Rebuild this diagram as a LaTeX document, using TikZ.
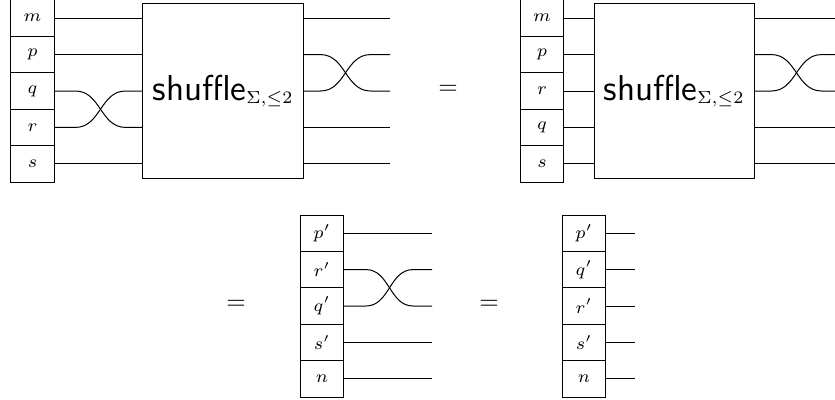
\documentclass[tikz,border=0pt]{standalone}
\begin{document}
\begin{tikzpicture}[x=0.4pt,y=-0.4pt,
  cell/.style={draw,rectangle,inner sep=0pt,minimum width=17.2pt,minimum height=14.56pt,font=\scriptsize},
  bigbox/.style={draw,rectangle,inner sep=0pt,minimum width=64pt,minimum height=69.6pt},
  eqsign/.style={inner sep=0pt},
  wire/.style={line width=0.4pt}]
\useasboundingbox (0,0) rectangle (835,400);

% ---------- top left ----------
\node[cell] (a1) at (32.5,18.2) {$m$};
\node[cell] (a2) at (32.5,54.6) {$p$};
\node[cell] (a3) at (32.5,91) {$q$};
\node[cell] (a4) at (32.5,127.4) {$r$};
\node[cell] (a5) at (32.5,163.8) {$s$};
\node[bigbox] (A) at (223,91) {\textsf{\Large shuffle}$_{\Sigma,\leq 2}$};

\draw[wire] (a1.east) -- (a1.east -| A.west);
\draw[wire] (a2.east) -- (a2.east -| A.west);
\draw[wire] (a3.east) -- ++(21,0) .. controls +(25,0) and +(-25,0) .. ++(50,36.4) -- (A.west |- a4.east);
\draw[wire] (a4.east) -- ++(21,0) .. controls +(25,0) and +(-25,0) .. ++(50,-36.4) -- (A.west |- a3.east);
\draw[wire] (a5.east) -- (a5.east -| A.west);

\coordinate (ao1) at (390,18.2);
\coordinate (ao2) at (390,54.6);
\coordinate (ao3) at (390,91);
\coordinate (ao4) at (390,127.4);
\coordinate (ao5) at (390,163.8);
\draw[wire] (A.east |- a1.east) -- (ao1);
\draw[wire] (A.east |- a2.east) -- ++(17,0) .. controls +(25,0) and +(-25,0) .. ++(50,36.4) -- (ao3);
\draw[wire] (A.east |- a3.east) -- ++(17,0) .. controls +(25,0) and +(-25,0) .. ++(50,-36.4) -- (ao2);
\draw[wire] (A.east |- a4.east) -- (ao4);
\draw[wire] (A.east |- a5.east) -- (ao5);

\node[eqsign] (eq1) at (448,89.5) {$=$};

% ---------- top right ----------
\node[cell] (b1) at (542,18.2) {$m$};
\node[cell] (b2) at (542,54.6) {$p$};
\node[cell] (b3) at (542,91) {$r$};
\node[cell] (b4) at (542,127.4) {$q$};
\node[cell] (b5) at (542,163.8) {$s$};
\node[bigbox] (B) at (674,91) {\textsf{\Large shuffle}$_{\Sigma,\leq 2}$};

\draw[wire] (b1.east) -- (b1.east -| B.west);
\draw[wire] (b2.east) -- (b2.east -| B.west);
\draw[wire] (b3.east) -- (b3.east -| B.west);
\draw[wire] (b4.east) -- (b4.east -| B.west);
\draw[wire] (b5.east) -- (b5.east -| B.west);

\coordinate (bo1) at (835,18.2);
\coordinate (bo2) at (835,54.6);
\coordinate (bo3) at (835,91);
\coordinate (bo4) at (835,127.4);
\coordinate (bo5) at (835,163.8);
\draw[wire] (B.east |- b1.east) -- (bo1);
\draw[wire] (B.east |- b2.east) -- ++(17,0) .. controls +(25,0) and +(-25,0) .. ++(50,36.4) -- (bo3);
\draw[wire] (B.east |- b3.east) -- ++(17,0) .. controls +(25,0) and +(-25,0) .. ++(50,-36.4) -- (bo2);
\draw[wire] (B.east |- b4.east) -- (bo4);
\draw[wire] (B.east |- b5.east) -- (bo5);

% ---------- bottom ----------
\node[eqsign] (eq2) at (236,304.5) {$=$};

\node[cell] (c1) at (322,233.2) {$p'$};
\node[cell] (c2) at (322,269.6) {$r'$};
\node[cell] (c3) at (322,306) {$q'$};
\node[cell] (c4) at (322,342.4) {$s'$};
\node[cell] (c5) at (322,378.8) {$n$};

\coordinate (co1) at (432,233.2);
\coordinate (co2) at (432,269.6);
\coordinate (co3) at (432,306);
\coordinate (co4) at (432,342.4);
\coordinate (co5) at (432,378.8);
\draw[wire] (c1.east) -- (co1);
\draw[wire] (c2.east) -- ++(22,0) .. controls +(23.5,0) and +(-23.5,0) .. ++(47,36.4) -- (co3);
\draw[wire] (c3.east) -- ++(22,0) .. controls +(23.5,0) and +(-23.5,0) .. ++(47,-36.4) -- (co2);
\draw[wire] (c4.east) -- (co4);
\draw[wire] (c5.east) -- (co5);

\node[eqsign] (eq3) at (489,304.5) {$=$};

\node[cell] (d1) at (584,233.2) {$p'$};
\node[cell] (d2) at (584,269.6) {$q'$};
\node[cell] (d3) at (584,306) {$r'$};
\node[cell] (d4) at (584,342.4) {$s'$};
\node[cell] (d5) at (584,378.8) {$n$};

\coordinate (do1) at (635,233.2);
\coordinate (do2) at (635,269.6);
\coordinate (do3) at (635,306);
\coordinate (do4) at (635,342.4);
\coordinate (do5) at (635,378.8);
\draw[wire] (d1.east) -- (do1);
\draw[wire] (d2.east) -- (do2);
\draw[wire] (d3.east) -- (do3);
\draw[wire] (d4.east) -- (do4);
\draw[wire] (d5.east) -- (do5);
\end{tikzpicture}
\end{document}
